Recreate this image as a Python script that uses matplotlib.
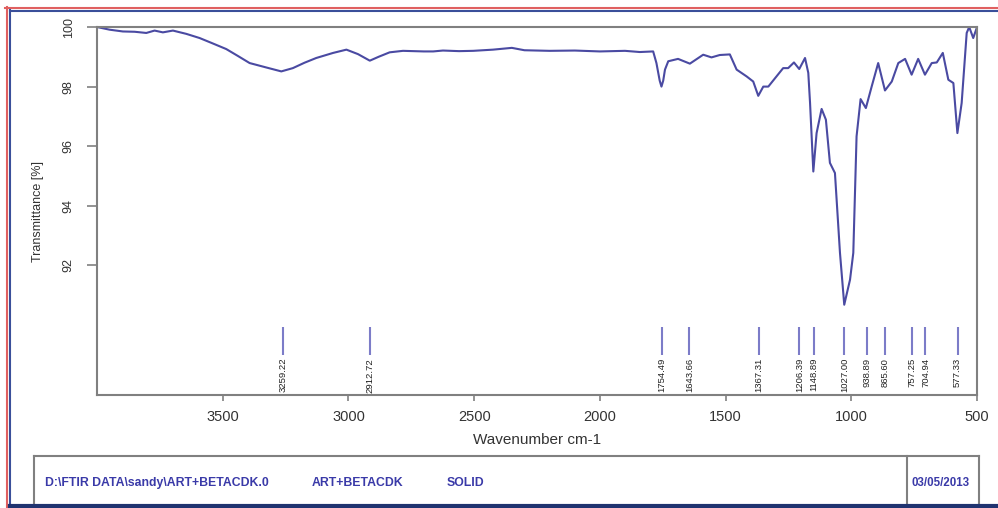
import numpy as np
import matplotlib
matplotlib.use("Agg")
import matplotlib.pyplot as plt
from matplotlib.lines import Line2D

plt.rcParams['font.family'] = ['Liberation Sans', 'DejaVu Sans']

# spectrum (wavenumber cm-1, transmittance %)
wavenumber = [4000, 3950, 3897, 3850, 3804, 3771, 3738, 3698, 3645, 3592,
              3540, 3486, 3440, 3393, 3326, 3267, 3221, 3175, 3128, 3061,
              3008, 2962, 2915, 2880, 2836, 2783, 2700, 2663, 2624, 2560,
              2504, 2425, 2350, 2300, 2200, 2100, 2000, 1900, 1841, 1788,
              1775, 1762, 1755, 1748, 1741, 1728, 1689, 1642, 1589, 1556,
              1523, 1483, 1456, 1416, 1390, 1370, 1350, 1330, 1271, 1251,
              1228, 1207, 1184, 1171, 1164, 1151, 1138, 1118, 1101, 1085,
              1065, 1045, 1028, 1005, 992, 979, 963, 942, 919, 893,
              866, 839, 813, 786, 760, 734, 707, 680, 660, 636,
              614, 594, 578, 561, 541, 531, 515, 501]
transmittance = [100.0, 99.91, 99.85, 99.84, 99.80, 99.88, 99.82, 99.88, 99.77, 99.63,
                 99.45, 99.26, 99.03, 98.79, 98.64, 98.51, 98.62, 98.80, 98.96, 99.13,
                 99.24, 99.09, 98.87, 99.00, 99.15, 99.20, 99.18, 99.18, 99.21, 99.19,
                 99.20, 99.24, 99.30, 99.22, 99.20, 99.21, 99.18, 99.20, 99.16, 99.18,
                 98.79, 98.20, 98.00, 98.20, 98.57, 98.85, 98.93, 98.77, 99.07, 98.98,
                 99.06, 99.08, 98.57, 98.34, 98.17, 97.69, 98.00, 98.00, 98.62, 98.62,
                 98.81, 98.59, 98.96, 98.46, 97.45, 95.15, 96.44, 97.25, 96.89, 95.44,
                 95.10, 92.42, 90.68, 91.52, 92.42, 96.33, 97.58, 97.28, 98.00, 98.79,
                 97.87, 98.17, 98.79, 98.93, 98.40, 98.93, 98.40, 98.79, 98.81, 99.13,
                 98.23, 98.12, 96.44, 97.45, 99.80, 100.0, 99.63, 99.97]

peaks = [3259.22, 2912.72, 1754.49, 1643.66, 1367.31, 1206.39, 1148.89,
         1027.00, 938.89, 865.60, 757.25, 704.94, 577.33]

x_ticks = [3500, 3000, 2500, 2000, 1500, 1000, 500]
y_ticks = [92, 94, 96, 98, 100]

info_path = "D:\\FTIR DATA\\sandy\\ART+BETACDK.0"
info_name = "ART+BETACDK"
info_state = "SOLID"
info_date = "03/05/2013"

W, H = 998, 508
fig = plt.figure(figsize=(W / 100, H / 100), dpi=100)
fig.patch.set_facecolor("white")


def fx(x):
    return x / W


def fy(y):
    return 1 - y / H


ax = fig.add_axes([fx(97), fy(395), fx(977) - fx(97), fy(27) - fy(395)])
ax.plot(wavenumber, transmittance, color="#4a4aa2", lw=1.5)

# peak markers
ax.vlines(peaks, 89.0, 89.94, color="#7c7cc8", lw=1.5)
for p in peaks:
    ax.text(p, 88.9, f"{p:.2f}", rotation=90, ha="center", va="top",
            fontsize=6.8, color="#222222")

ax.set_xlim(4000, 500)
ax.set_ylim(87.65, 100)
ax.set_xticks(x_ticks)
ax.set_yticks(y_ticks)
ax.set_yticklabels([str(v) for v in y_ticks], rotation=90, va="center")

for s in ax.spines.values():
    s.set_color("#808080")
    s.set_linewidth(1.5)
ax.tick_params(axis="x", colors="#808080", labelcolor="#333333", length=4,
               width=1.2, pad=7, labelsize=10.5)
ax.tick_params(axis="y", colors="#808080", labelcolor="#333333", length=7,
               width=1.2, pad=9, labelsize=9)

ax.set_xlabel("Wavenumber cm-1", fontsize=11, color="#333333")
ax.xaxis.set_label_coords(0.5, -0.103)
ax.set_ylabel("Transmittance [%]", fontsize=9, color="#333333")
ax.yaxis.set_label_coords(-0.060, 0.5)

# page frame
def fline(xs, ys, **kw):
    fig.add_artist(Line2D([fx(v) for v in xs], [fy(v) for v in ys],
                          transform=fig.transFigure, **kw))


fline([5, 998], [7.5, 7.5], color="#e06060", lw=1.5)
fline([6.5, 6.5], [7, 508], color="#e06060", lw=1.5)
fline([10, 998], [10.5, 10.5], color="#3a4f9a", lw=1.5)
fline([10, 10], [10, 508], color="#3a4f9a", lw=1.5)

# info box
fline([34, 979], [456, 456], color="#808080", lw=1.5)
fline([34, 34], [456, 508], color="#808080", lw=1.5)
fline([979, 979], [456, 508], color="#808080", lw=1.5)
fline([907, 907], [456, 508], color="#808080", lw=1.5)
fline([10, 998], [505.5, 505.5], color="#1f3370", lw=3)

txt_kw = dict(fontsize=8.8, color="#3a3aa8", va="center", fontweight="bold")
fig.text(fx(45), fy(483), info_path, **txt_kw)
fig.text(fx(312), fy(483), info_name, **txt_kw)
fig.text(fx(447), fy(483), info_state, **txt_kw)
fig.text(fx(911), fy(483), info_date, fontsize=8.3, color="#3a3aa8",
         va="center", fontweight="bold")

fig.savefig("out.png", dpi=100)
